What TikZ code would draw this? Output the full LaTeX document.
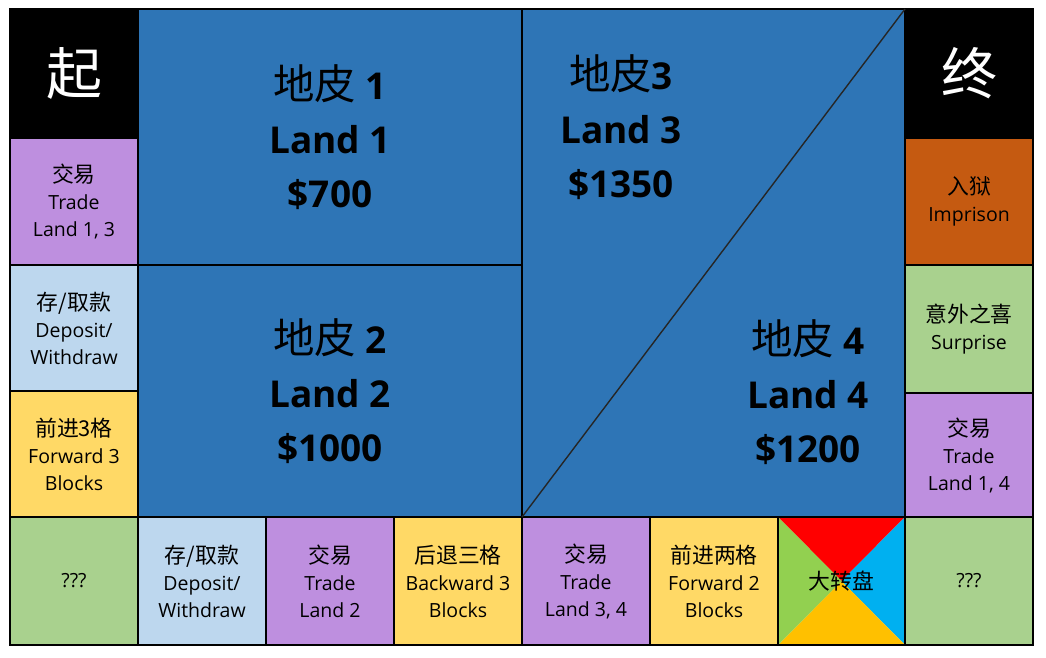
\documentclass[tikz,border=0pt]{standalone}
\usepackage{fontspec}
\setmainfont{Open Sans}
\newfontfamily\cjk[Scale=1.12]{Noto Sans CJK SC}
\usetikzlibrary{backgrounds}
\definecolor{landblue}{HTML}{2E75B6}
\definecolor{tradepurple}{HTML}{BE8FDF}
\definecolor{banklightblue}{HTML}{BDD7EE}
\definecolor{moveyellow}{HTML}{FFD966}
\definecolor{askgreen}{HTML}{A9D18E}
\definecolor{jailorange}{HTML}{C55A11}
\definecolor{wheelred}{HTML}{FF0000}
\definecolor{wheelcyan}{HTML}{00B0F0}
\definecolor{wheelgold}{HTML}{FFC000}
\definecolor{wheelgreen}{HTML}{92D050}
\tikzset{
  cell/.style={draw=black, line width=1.2pt, rectangle, anchor=north west,
    inner sep=0pt, outer sep=0pt, align=center,
    font=\fontsize{19.5}{27}\selectfont},
  wh/.style 2 args={minimum width=#1pt, minimum height=#2pt},
  bigtxt/.style={align=center, inner sep=0pt,
    font=\fontsize{37}{54}\selectfont\bfseries},
  cornertxt/.style={text=white, font=\fontsize{50}{54}\selectfont\cjk}
}
\begin{document}
\begin{tikzpicture}[x=1pt, y=-1pt]
\useasboundingbox (0,0) rectangle (1046,657);
% left column
\node[cell, fill=black, wh={128}{129}, cornertxt] (start) at (10,9) {起};
\node[cell, fill=tradepurple, wh={128}{127}] (tradeA) at (10,138) {{\cjk 交易}\\Trade\\Land 1, 3};
\node[cell, fill=banklightblue, wh={128}{126}] (bankA) at (10,265) {{\cjk 存/取款}\\Deposit/\\Withdraw};
\node[cell, fill=moveyellow, wh={128}{126}] (fwdA) at (10,391) {{\cjk 前进3格}\\Forward 3\\Blocks};
\node[cell, fill=askgreen, wh={128}{128}] (askA) at (10,517) {???};
% right column
\node[cell, fill=black, wh={128}{129}, cornertxt] (finish) at (905,9) {终};
\node[cell, fill=jailorange, wh={128}{127}] (jail) at (905,138) {{\cjk 入狱}\\Imprison};
\node[cell, fill=askgreen, wh={128}{128}] (surprise) at (905,265) {{\cjk 意外之喜}\\Surprise};
\node[cell, fill=tradepurple, wh={128}{124}] (tradeD) at (905,393) {{\cjk 交易}\\Trade\\Land 1, 4};
\node[cell, fill=askgreen, wh={128}{128}] (askB) at (905,517) {???};
% bottom row
\node[cell, fill=banklightblue, wh={128}{128}] (bankB) at (138,517) {{\cjk 存/取款}\\Deposit/\\Withdraw};
\node[cell, fill=tradepurple, wh={128}{128}] (tradeB) at (266,517) {{\cjk 交易}\\Trade\\Land 2};
\node[cell, fill=moveyellow, wh={128}{128}] (back) at (394,517) {{\cjk 后退三格}\\Backward 3\\Blocks};
\node[cell, fill=tradepurple, wh={128}{128}] (tradeC) at (522,517) {{\cjk 交易}\\Trade\\Land 3, 4};
\node[cell, fill=moveyellow, wh={128}{128}] (fwdB) at (650,517) {{\cjk 前进两格}\\Forward 2\\Blocks};
\node[cell, wh={127}{128}] (wheel) at (778,517) {{\cjk 大转盘}};
\begin{scope}[on background layer]
  \fill[white] (0,0) rectangle (1046,657);
  \fill[wheelred] (wheel.north west) -- (wheel.center) -- (wheel.north east) -- cycle;
  \fill[wheelcyan] (wheel.north east) -- (wheel.center) -- (wheel.south east) -- cycle;
  \fill[wheelgold] (wheel.south east) -- (wheel.center) -- (wheel.south west) -- cycle;
  \fill[wheelgreen] (wheel.south west) -- (wheel.center) -- (wheel.north west) -- cycle;
\end{scope}
% lands
\node[cell, fill=landblue, wh={384}{256}, bigtxt] (land1) at (138,9) {{\cjk\mdseries 地皮} 1\\Land 1\\\$700};
\node[cell, fill=landblue, wh={384}{252}, bigtxt] (land2) at (138,265) {{\cjk\mdseries 地皮} 2\\Land 2\\\$1000};
\node[cell, fill=landblue, wh={383}{508}] (land34) at (522,9) {};
\draw[line width=1.4pt, black!85] (land34.south west) -- (land34.north east);
\node[bigtxt] (land3txt) at (621,127) {{\cjk\mdseries 地皮}3\\Land 3\\\$1350};
\node[bigtxt] (land4txt) at (808,392) {{\cjk\mdseries 地皮} 4\\Land 4\\\$1200};
\end{tikzpicture}
\end{document}
